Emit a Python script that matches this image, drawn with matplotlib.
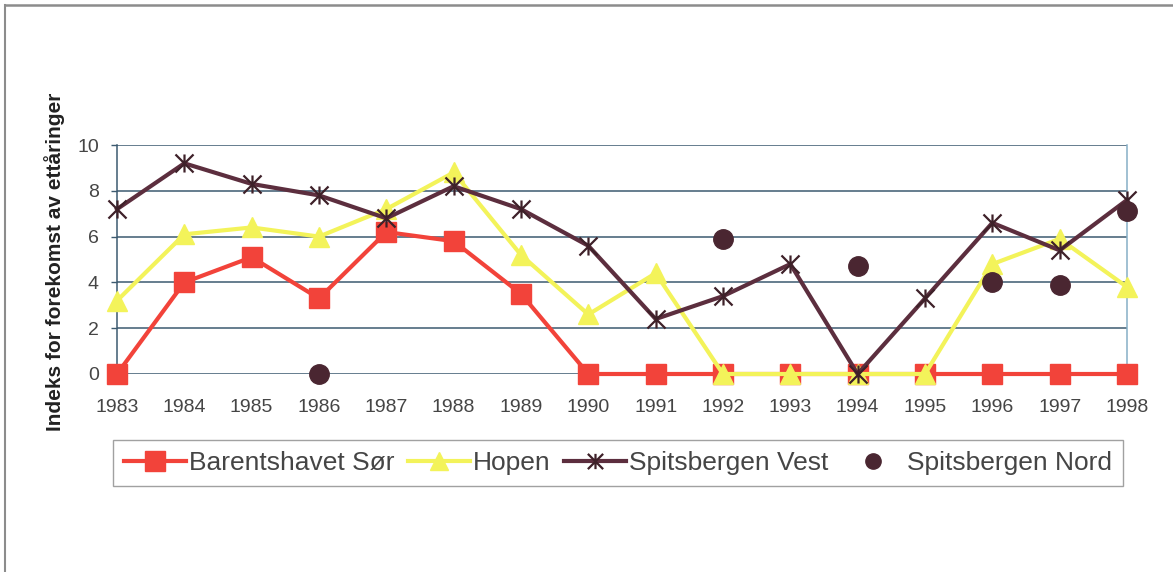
import matplotlib
matplotlib.use("Agg")
import matplotlib.pyplot as plt
from matplotlib.lines import Line2D
from matplotlib.path import Path

plt.rcParams['font.family'] = ['Liberation Sans', 'DejaVu Sans']

years = [1983, 1984, 1985, 1986, 1987, 1988, 1989, 1990,
         1991, 1992, 1993, 1994, 1995, 1996, 1997, 1998]
barents_sor = [0.0, 4.0, 5.1, 3.3, 6.2, 5.8, 3.5, 0.0,
               0.0, 0.0, 0.0, 0.0, 0.0, 0.0, 0.0, 0.0]
hopen = [3.2, 6.1, 6.4, 6.0, 7.2, 8.8, 5.2, 2.6,
         4.4, 0.0, 0.0, 0.0, 0.0, 4.8, 5.9, 3.8]
spitsbergen_vest = [7.2, 9.2, 8.3, 7.8, 6.8, 8.2, 7.2, 5.6,
                    2.4, 3.4, 4.8, 0.0, 3.3, 6.6, 5.4, 7.6]
nord_years = [1986, 1992, 1994, 1996, 1997, 1998]
spitsbergen_nord = [0.0, 5.9, 4.7, 4.0, 3.9, 7.1]

series_labels = ["Barentshavet Sør", "Hopen", "Spitsbergen Vest", "Spitsbergen Nord"]
y_label = "Indeks for forekomst av ettåringer"
y_ticks = [0, 2, 4, 6, 8, 10]

RED = "#F2433A"
YELLOW = "#F3F35A"
BROWN = "#5C2E3E"
STAR_EDGE = "#3E2129"
DOT = "#4A2631"
GRID = "#3C5A70"
TEXT = "#454545"

# Excel-style star: an X with a vertical bar through it
star = Path([(0, -1), (0, 1), (-1, -1), (1, 1), (-1, 1), (1, -1)],
            [Path.MOVETO, Path.LINETO, Path.MOVETO, Path.LINETO,
             Path.MOVETO, Path.LINETO])

W, H = 1173, 572
fig = plt.figure(figsize=(W / 100, H / 100), dpi=100)
fig.patch.set_facecolor("white")

ax = fig.add_axes([117 / W, 1 - 374 / H, (1127 - 117) / W, (374 - 145) / H])
ax.set_xlim(years[0], years[-1])
ax.set_ylim(0, 10)

ax.plot(years, barents_sor, color=RED, lw=3.0, marker="s", ms=14,
        mfc=RED, mec=RED, clip_on=False, zorder=3)
ax.plot(years, hopen, color=YELLOW, lw=3.0, marker="^", ms=15,
        mfc=YELLOW, mec=YELLOW, clip_on=False, zorder=4)
ax.plot(years, spitsbergen_vest, color=BROWN, lw=3.0, marker=star, ms=13,
        mfc="none", mec=STAR_EDGE, mew=1.6, clip_on=False, zorder=5)
ax.plot(nord_years, spitsbergen_nord, ls="none", marker="o", ms=14,
        mfc=DOT, mec=DOT, clip_on=False, zorder=6)

ax.set_yticks(y_ticks)
ax.set_xticks(years)
ax.set_xticklabels([str(y) for y in years])
ax.yaxis.grid(True, color=GRID, lw=1.1)
ax.set_axisbelow(True)
for s in ("top", "bottom"):
    ax.spines[s].set_visible(False)
ax.spines["left"].set_color(GRID)
ax.spines["left"].set_linewidth(1.1)
ax.spines["right"].set_color("#86AFC6")
ax.spines["right"].set_linewidth(1.1)
ax.tick_params(axis="y", length=4, width=1, color=GRID, pad=9,
               labelsize=14, labelcolor=TEXT)
ax.tick_params(axis="x", length=0, pad=18, labelsize=14, labelcolor=TEXT)

fig.text(55 / W, 1 - 262 / H, y_label, rotation=90, ha="center", va="center",
         fontsize=15, fontweight="bold", color="#222222")

handles = [
    Line2D([], [], color=RED, lw=3.0, marker="s", ms=15, mfc=RED, mec=RED),
    Line2D([], [], color=YELLOW, lw=3.0, marker="^", ms=13, mfc=YELLOW, mec=YELLOW),
    Line2D([], [], color=BROWN, lw=3.0, marker=star, ms=11, mfc="none",
           mec=STAR_EDGE, mew=1.6),
    Line2D([], [], ls="none", marker="o", ms=11, mfc=DOT, mec=DOT),
]
leg = fig.legend(handles, series_labels, ncol=4, loc="upper left",
                 bbox_to_anchor=(113 / W, 1 - 440 / H),
                 borderaxespad=0, fontsize=19, handlelength=2.35,
                 handletextpad=0.12, columnspacing=0.5, fancybox=False,
                 frameon=True, borderpad=0.42)
for t in leg.get_texts():
    t.set_color(TEXT)
leg.get_frame().set_edgecolor("#8A8A8A")
leg.get_frame().set_linewidth(1.0)

# page frame lines
fig.add_artist(Line2D([4.5 / W, 4.5 / W], [0, 1 - 5 / H], color="#8C8C8C",
                      lw=1.5, transform=fig.transFigure))
fig.add_artist(Line2D([4.5 / W, 1], [1 - 5 / H, 1 - 5 / H], color="#8C8C8C",
                      lw=1.8, transform=fig.transFigure))

fig.savefig("out.png", dpi=100)
